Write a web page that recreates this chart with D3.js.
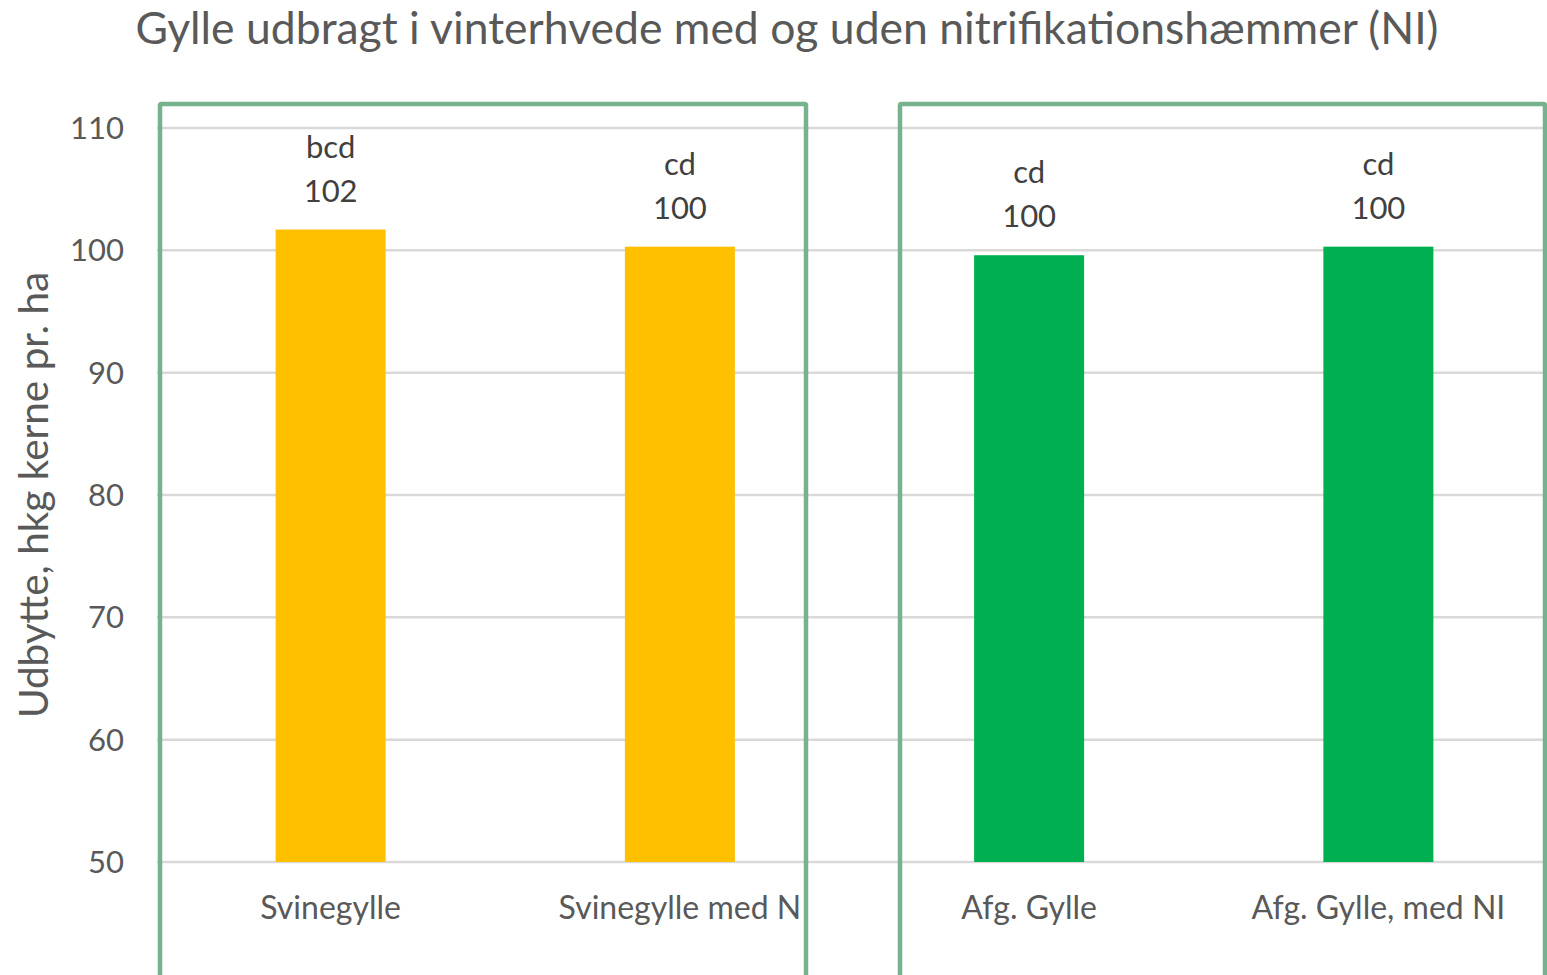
<!DOCTYPE html>
<html lang="da">
<head>
    <meta charset="UTF-8">
    <title>Gylle udbragt i vinterhvede</title>
    <script src="https://d3js.org/d3.v7.min.js"></script>
    <style>
        html, body { margin: 0; padding: 0; background: #fff; }
        svg { display: block; font-family: Lato, "Open Sans", sans-serif; }
    </style>
</head>
<body>
    <svg id="chart" width="1547" height="975"></svg>
    <script>
        // data
        const categories = ["Svinegylle", "Svinegylle med N", "Afg. Gylle", "Afg. Gylle, med NI"];
        const values = [101.7, 100.3, 99.6, 100.3];
        const valueLabels = ["102", "100", "100", "100"];
        const letters = ["bcd", "cd", "cd", "cd"];
        const barColors = ["#FFC000", "#FFC000", "#00B050", "#00B050"];
        const yTicks = [50, 60, 70, 80, 90, 100, 110];

        const width = 1547, height = 975;
        const svg = d3.select("#chart");

        const x = d3.scaleBand()
            .domain(categories)
            .range([156, 1553])
            .paddingInner(0.685)
            .paddingOuter(0.3425);

        const y = d3.scaleLinear()
            .domain([50, 110])
            .range([862, 128]);

        // title
        svg.append("text")
            .attr("x", 787)
            .attr("y", 44)
            .attr("text-anchor", "middle")
            .attr("font-size", 44.5)
            .attr("fill", "#595959")
            .text("Gylle udbragt i vinterhvede med og uden nitrifikationshæmmer (NI)");

        // gridlines
        svg.append("g")
            .selectAll("line")
            .data(yTicks)
            .join("line")
            .attr("x1", 157)
            .attr("x2", width)
            .attr("y1", d => y(d))
            .attr("y2", d => y(d))
            .attr("stroke", "#d9d9d9")
            .attr("stroke-width", 2.5);

        // y tick labels
        svg.append("g")
            .selectAll("text")
            .data(yTicks)
            .join("text")
            .attr("x", 124)
            .attr("y", d => y(d))
            .attr("dy", "0.35em")
            .attr("text-anchor", "end")
            .attr("font-size", 31)
            .attr("fill", "#595959")
            .text(d => d);

        // y axis title
        svg.append("text")
            .attr("transform", `translate(48, ${(y(50) + y(110)) / 2}) rotate(-90)`)
            .attr("text-anchor", "middle")
            .attr("font-size", 40.5)
            .attr("fill", "#595959")
            .text("Udbytte, hkg kerne pr. ha");

        // bars
        svg.append("g")
            .selectAll("rect")
            .data(values)
            .join("rect")
            .attr("x", (d, i) => x(categories[i]))
            .attr("width", x.bandwidth())
            .attr("y", d => y(d))
            .attr("height", d => y(50) - y(d))
            .attr("fill", (d, i) => barColors[i]);

        // data labels: value + letters
        const labels = svg.append("g")
            .selectAll("g")
            .data(values)
            .join("g")
            .attr("transform", (d, i) => `translate(${x(categories[i]) + x.bandwidth() / 2}, ${y(d)})`)
            .attr("text-anchor", "middle")
            .attr("font-size", 31)
            .attr("fill", "#404040");

        labels.append("text")
            .attr("y", -28)
            .text((d, i) => valueLabels[i]);

        labels.append("text")
            .attr("y", -72)
            .text((d, i) => letters[i]);

        // category labels
        svg.append("g")
            .selectAll("text")
            .data(categories)
            .join("text")
            .attr("x", d => x(d) + x.bandwidth() / 2)
            .attr("y", 919)
            .attr("text-anchor", "middle")
            .attr("font-size", 32)
            .attr("fill", "#595959")
            .text(d => d);

        // green frames around the two groups
        const frames = [{x: 160, w: 646}, {x: 900, w: 645}];
        svg.append("g")
            .selectAll("rect")
            .data(frames)
            .join("rect")
            .attr("x", d => d.x)
            .attr("width", d => d.w)
            .attr("y", 104)
            .attr("height", 1000)
            .attr("fill", "none")
            .attr("stroke", "#76B28D")
            .attr("stroke-width", 4.5)
            .attr("rx", 1.5);
    </script>
</body>
</html>
